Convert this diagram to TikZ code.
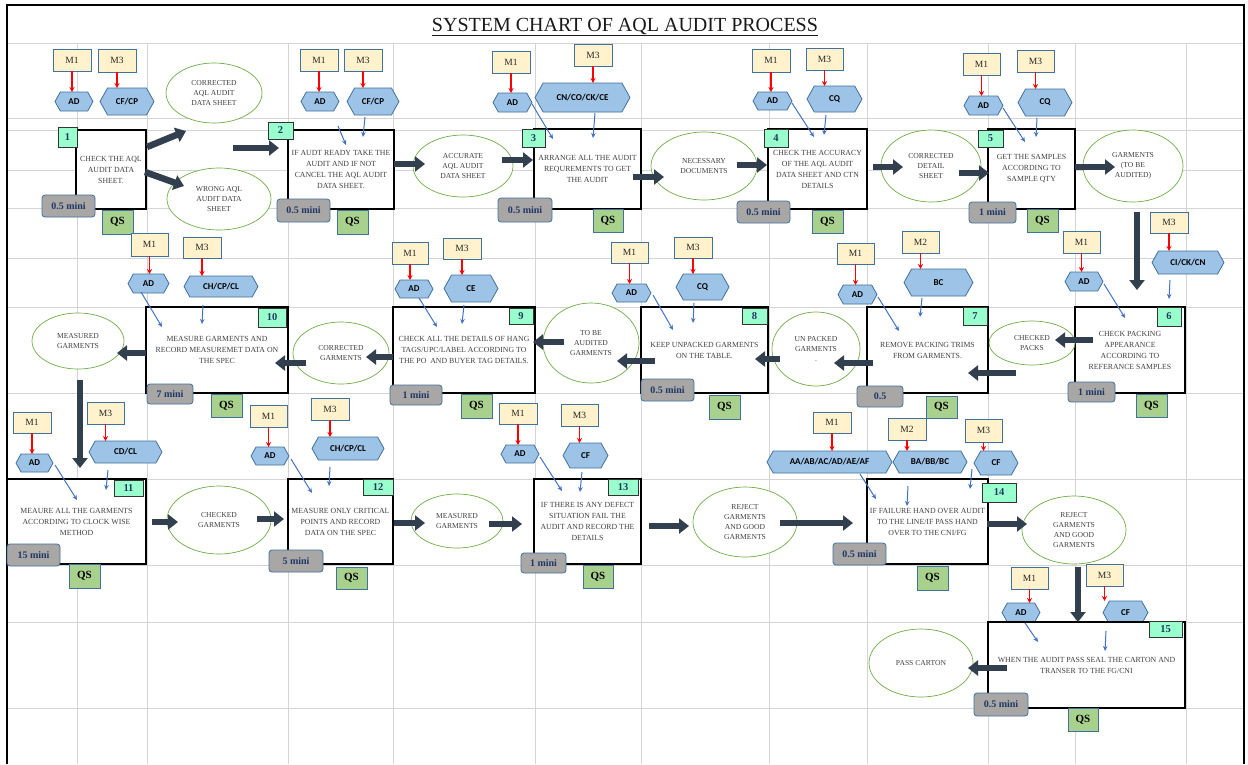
\documentclass[tikz,border=0pt]{standalone}
\usepackage{fontspec}
\setmainfont{Liberation Serif}
\newfontfamily\hexfont{Carlito}
\usetikzlibrary{arrows.meta,calc,shapes.geometric}
\pgfdeclarelayer{front}
\pgfsetlayers{main,front}
\definecolor{gridc}{HTML}{D4D4D4}
\definecolor{mfill}{HTML}{FFF2CC}
\definecolor{edgeb}{HTML}{41719C}
\definecolor{hexfill}{HTML}{9DC3E6}
\definecolor{numfill}{HTML}{99FFCC}
\definecolor{numtext}{HTML}{1F3864}
\definecolor{timefill}{HTML}{A9A6A6}
\definecolor{qsfill}{HTML}{A9D18E}
\definecolor{ellc}{HTML}{70AD47}
\definecolor{bigarrc}{HTML}{323F4F}
\definecolor{txtc}{HTML}{404040}
\definecolor{arrblue}{HTML}{4472C4}
\definecolor{arrred}{HTML}{FF0000}
\newcommand\mkbox[7]{\node[#1, minimum width={(#5)-(#3)}, minimum height={(#6)-(#4)}] (#2) at ({((#3)+(#5))/2},{((#4)+(#6))/2}) {#7};}
\newcommand\hexn[6]{%
  \pgfmathsetmacro\hxp{0.28*((#5)-(#3))}%
  \path[hexshape] (#2,{((#3)+(#5))/2}) -- ({(#2)+\hxp},#3) -- ({(#4)-\hxp},#3) -- (#4,{((#3)+(#5))/2}) -- ({(#4)-\hxp},#5) -- ({(#2)+\hxp},#5) -- cycle;%
  \node[hextext, minimum width={(#4)-(#2)}, minimum height={(#5)-(#3)}] (#1) at ({((#2)+(#4))/2},{((#3)+(#5))/2}) {#6};%
}
\newcommand\elln[6]{\node[ell, minimum width={2*(#4)}, minimum height={2*(#5)}] (#1) at (#2,#3) {#6};}
\newcommand\barr[5]{\coordinate (#1s) at (#2,#3); \coordinate (#1e) at (#4,#5); \begin{pgfonlayer}{front}\draw[bluearrow] (#1s) -- (#1e);\end{pgfonlayer}}
\newcommand\bigarr[5]{\coordinate (#1s) at (#2,#3); \coordinate (#1e) at (#4,#5); \begin{pgfonlayer}{front}\draw[bigarrow] (#1s) -- (#1e);\end{pgfonlayer}}
\newcommand\redarr[2]{\begin{pgfonlayer}{front}\draw[redarrow] (#1.south) -- (#1.south |- #2.north);\end{pgfonlayer}}
\begin{document}
\begin{tikzpicture}[x=1pt,y=-1pt,
  gridline/.style={draw=gridc, line width=0.9pt},
  mbox/.style={draw=edgeb, line width=0.8pt, fill=mfill, inner sep=0pt, outer sep=0pt, font=\fontsize{9.5}{10}\selectfont, text=black!85},
  hexshape/.style={draw=edgeb, line width=0.8pt, fill=hexfill},
  hextext/.style={inner sep=0pt, outer sep=0pt, font=\hexfont\bfseries\fontsize{9}{10}\selectfont, text=black},
  stepbox/.style={draw=black, line width=2pt, fill=white, inner sep=0pt, outer sep=0pt, align=center, font=\fontsize{7.8}{11}\selectfont, text=txtc},
  numbox/.style={draw=black!80, line width=0.8pt, fill=numfill, inner sep=0pt, outer sep=0pt, font=\bfseries\fontsize{10.5}{11}\selectfont, text=numtext},
  timebox/.style={draw=edgeb, line width=0.8pt, fill=timefill, rounded corners=3pt, inner sep=0pt, outer sep=0pt, font=\bfseries\fontsize{10}{11}\selectfont, text=numtext},
  qsbox/.style={draw=edgeb, line width=0.8pt, fill=qsfill, inner sep=0pt, outer sep=0pt, font=\bfseries\fontsize{11}{12}\selectfont, text=black},
  ell/.style={ellipse, draw=ellc, line width=0.7pt, fill=white, inner sep=0pt, outer sep=0pt, align=center, font=\fontsize{7.6}{10}\selectfont, text=txtc},
  bigarrow/.style={draw=bigarrc, line width=6.5pt, -{Triangle[length=10pt,width=15pt]}},
  bluearrow/.style={draw=arrblue, line width=1pt, -{Stealth[length=5pt,width=4.5pt]}},
  redarrow/.style={draw=arrred, line width=1.3pt, -{Stealth[length=5pt,width=5pt]}}
]
\useasboundingbox (0,0) rectangle (1248,764);
\fill[white] (0,0) rectangle (1248,764);
% grid
\foreach \y in {43,118,130,170,208,258,307,393,479,565,622,708} \draw[gridline] (7,\y) -- (1244,\y);
\foreach \x in {77,147,288,393,535,641,769,867,988,1075,1186} \draw[gridline] (\x,43) -- (\x,764);
\draw[line width=1.6pt] (7,764) -- (7,5) -- (1244,5) -- (1244,764);
% title
\node[anchor=base, font=\fontsize{20}{22}\selectfont, text=black!90] (title) at (625,31) {\underline{SYSTEM CHART OF AQL AUDIT PROCESS}};

% ---------- step 1
\mkbox{mbox}{s1m1}{53}{49}{91}{71}{M1}
\mkbox{mbox}{s1m3}{98}{49}{136}{72}{M3}
\hexn{s1ad}{55}{92}{93}{111}{AD}
\hexn{s1cf}{100}{88}{154}{115}{CF/CP}
\redarr{s1m1}{s1ad}
\redarr{s1m3}{s1cf}
\mkbox{stepbox}{b1}{76}{130}{146}{209}{CHECK THE AQL\\AUDIT DATA\\SHEET.}
\mkbox{numbox}{n1}{58}{127}{77}{147}{1}
\mkbox{timebox}{t1}{42}{195}{95}{217}{0.5 mini}
\mkbox{qsbox}{q1}{102}{210}{133}{234}{QS}
\elln{e1a}{214}{93}{48}{30}{CORRECTED\\AQL AUDIT\\DATA SHEET}
\elln{e1b}{219}{199}{52}{31}{WRONG AQL\\AUDIT DATA\\SHEET}
\bigarr{a1}{147}{147}{186}{131}
\bigarr{a2}{145}{172}{184}{186}
\bigarr{a3}{233}{148}{279}{148}

% ---------- step 2
\mkbox{mbox}{s2m1}{300}{49}{338}{71}{M1}
\mkbox{mbox}{s2m3}{344}{49}{382}{71}{M3}
\hexn{s2ad}{301}{92}{339}{111}{AD}
\hexn{s2cf}{347}{88}{399}{115}{CF/CP}
\redarr{s2m1}{s2ad}
\redarr{s2m3}{s2cf}
\mkbox{stepbox}{b2}{288}{130}{394}{209}{IF AUDT READY TAKE THE\\AUDIT AND IF NOT\\CANCEL THE AQL AUDIT\\DATA SHEET.}
\mkbox{numbox}{n2}{268}{122}{293}{139}{2}
\mkbox{timebox}{t2}{277}{199}{330}{222}{0.5 mini}
\mkbox{qsbox}{q2}{337}{210}{368}{234}{QS}
\barr{l2a}{338}{126}{346}{145}
\barr{l2b}{365}{117}{363}{137}
\bigarr{a4}{394}{164}{425}{164}

% ---------- step 3
\elln{e2}{463}{166}{50}{31}{ACCURATE\\AQL AUDIT\\DATA SHEET}
\bigarr{a5}{502}{160}{533}{160}
\mkbox{mbox}{s3m1}{492}{51}{530}{73}{M1}
\mkbox{mbox}{s3m3}{574}{44}{612}{66}{M3}
\hexn{s3ad}{493}{93}{532}{112}{AD}
\hexn{s3cn}{535}{83}{630}{112}{CN/CO/CK/CE}
\redarr{s3m1}{s3ad}
\redarr{s3m3}{s3cn}
\mkbox{stepbox}{b3}{534}{129}{641}{209}{ARRANGE ALL THE AUDIT\\REQUREMENTS TO GET\\THE AUDIT}
\mkbox{numbox}{n3}{522}{129}{545}{147}{3}
\mkbox{timebox}{t3}{498}{198}{552}{222}{0.5 mini}
\mkbox{qsbox}{q3}{593}{209}{623}{232}{QS}
\barr{l3a}{532}{104}{553}{139}
\barr{l3b}{595}{113}{593}{138}
\bigarr{a6}{633}{177}{664}{177}

% ---------- step 4
\elln{e3}{704}{166}{53}{34}{NECESSARY\\DOCUMENTS}
\bigarr{a7}{737}{165}{767}{165}
\mkbox{mbox}{s4m1}{752}{49}{790}{72}{M1}
\mkbox{mbox}{s4m3}{806}{48}{843}{70}{M3}
\hexn{s4ad}{753}{92}{792}{110}{AD}
\hexn{s4cq}{807}{86}{862}{112}{CQ}
\redarr{s4m1}{s4ad}
\redarr{s4m3}{s4cq}
\mkbox{stepbox}{b4}{768}{129}{867}{209}{CHECK THE ACCURACY\\OF THE AQL AUDIT\\DATA SHEET AND CTN\\DETAILS}
\mkbox{numbox}{n4}{764}{129}{788}{147}{4}
\mkbox{timebox}{t4}{737}{201}{790}{223}{0.5 mini}
\mkbox{qsbox}{q4}{812}{210}{843}{233}{QS}
\barr{l4a}{792}{103}{814}{137}
\barr{l4b}{826}{115}{824}{135}
\bigarr{a8}{873}{167}{903}{167}

% ---------- step 5
\elln{e4}{931}{166}{50}{36}{CORRECTED\\DETAIL\\SHEET}
\bigarr{a9}{959}{173}{989}{173}
\mkbox{mbox}{s5m1}{963}{53}{1000}{75}{M1}
\mkbox{mbox}{s5m3}{1017}{50}{1054}{72}{M3}
\hexn{s5ad}{964}{96}{1003}{115}{AD}
\hexn{s5cq}{1018}{89}{1072}{116}{CQ}
\redarr{s5m1}{s5ad}
\redarr{s5m3}{s5cq}
\mkbox{stepbox}{b5}{988}{129}{1075}{209}{GET THE SAMPLES\\ACCORDING TO\\SAMPLE QTY}
\mkbox{numbox}{n5}{978}{130}{1003}{147}{5}
\mkbox{timebox}{t5}{969}{202}{1016}{223}{1 mini}
\mkbox{qsbox}{q5}{1027}{209}{1058}{232}{QS}
\barr{l5a}{1003}{108}{1025}{142}
\barr{l5b}{1037}{118}{1036}{137}
\bigarr{a10}{1075}{167}{1115}{167}
\elln{e5}{1133}{166}{50}{36}{GARMENTS\\(TO BE\\AUDITED)}
\bigarr{a11}{1137}{212}{1137}{290}

% ---------- step 6
\mkbox{mbox}{s6m3}{1150}{212}{1188}{233}{M3}
\mkbox{mbox}{s6m1}{1063}{231}{1100}{253}{M1}
\hexn{s6ci}{1152}{251}{1224}{274}{CI/CK/CN}
\hexn{s6ad}{1065}{272}{1103}{291}{AD}
\redarr{s6m1}{s6ad}
\redarr{s6m3}{s6ci}
\mkbox{stepbox}{b6}{1075}{307}{1185}{393}{CHECK PACKING\\APPEARANCE\\ACCORDING TO\\REFERANCE SAMPLES}
\mkbox{numbox}{n6}{1157}{307}{1181}{326}{6}
\mkbox{timebox}{t6}{1068}{382}{1115}{402}{1 mini}
\mkbox{qsbox}{q6}{1136}{394}{1167}{417}{QS}
\barr{l6a}{1104}{284}{1125}{318}
\barr{l6b}{1170}{280}{1169}{299}
\elln{e6}{1032}{343}{43}{22}{CHECKED\\PACKS}
\bigarr{a12}{1093}{340}{1055}{340}
\bigarr{a13}{1016}{373}{968}{373}

% ---------- step 7
\mkbox{mbox}{s7m1}{837}{243}{874}{264}{M1}
\mkbox{mbox}{s7m2}{902}{231}{939}{253}{M2}
\hexn{s7ad}{838}{285}{877}{304}{AD}
\hexn{s7bc}{904}{269}{973}{296}{BC}
\redarr{s7m1}{s7ad}
\redarr{s7m2}{s7bc}
\mkbox{stepbox}{b7}{867}{307}{988}{393}{REMOVE PACKING TRIMS\\FROM GARMENTS.}
\mkbox{numbox}{n7}{963}{307}{987}{325}{7}
\mkbox{timebox}{t7}{857}{386}{903}{407}{0.5\hspace{16pt}}
\mkbox{qsbox}{q7}{926}{396}{957}{418}{QS}
\barr{l7a}{878}{297}{899}{331}
\barr{l7b}{922}{298}{920}{317}
\bigarr{a13b}{873}{363}{834}{363}
\elln{e7}{816}{349}{44}{37}{UN PACKED\\GARMENTS\\.}
\bigarr{a14}{780}{359}{755}{359}

% ---------- step 8
\mkbox{mbox}{s8m1}{611}{242}{648}{263}{M1}
\mkbox{mbox}{s8m3}{674}{237}{712}{258}{M3}
\hexn{s8ad}{612}{284}{651}{302}{AD}
\hexn{s8cq}{676}{274}{729}{300}{CQ}
\redarr{s8m1}{s8ad}
\redarr{s8m3}{s8cq}
\mkbox{stepbox}{b8}{641}{307}{768}{393}{KEEP UNPACKED GARMENTS\\ON THE TABLE.}
\mkbox{numbox}{n8}{742}{308}{767}{324}{8}
\mkbox{timebox}{t8}{641}{379}{694}{401}{0.5 mini}
\mkbox{qsbox}{q8}{709}{395}{740}{419}{QS}
\barr{l8a}{653}{295}{673}{330}
\barr{l8b}{694}{303}{693}{323}
\bigarr{a15}{655}{361}{617}{361}

% ---------- step 9
\elln{e8}{591}{343}{48}{40}{TO BE\\AUDITED\\GARMENTS}
\bigarr{a16}{564}{342}{533}{342}
\mkbox{mbox}{s9m1}{392}{242}{428}{264}{M1}
\mkbox{mbox}{s9m3}{443}{238}{481}{259}{M3}
\hexn{s9ad}{395}{280}{433}{298}{AD}
\hexn{s9ce}{444}{275}{498}{302}{CE}
\redarr{s9m1}{s9ad}
\redarr{s9m3}{s9ce}
\mkbox{stepbox}{b9}{393}{307}{535}{393}{CHECK ALL THE DETAILS OF HANG\\TAGS/UPC/LABEL ACCORDING TO\\THE PO \ AND BUYER TAG DETAILS.}
\mkbox{numbox}{n9}{509}{308}{533}{324}{9}
\mkbox{timebox}{t9}{390}{385}{442}{405}{1 mini}
\mkbox{qsbox}{q9}{461}{394}{492}{418}{QS}
\barr{l9a}{419}{298}{437}{327}
\barr{l9b}{464}{305}{462}{324}
\bigarr{a17}{393}{357}{366}{357}
\elln{e9}{341}{353}{48}{31}{CORRECTED\\GARMENTS}
\bigarr{a18}{306}{363}{275}{363}

% ---------- step 10
\mkbox{mbox}{s10m1}{131}{233}{168}{256}{M1}
\mkbox{mbox}{s10m3}{183}{237}{221}{258}{M3}
\hexn{s10ad}{128}{274}{169}{293}{AD}
\hexn{s10ch}{184}{276}{258}{297}{CH/CP/CL}
\redarr{s10m1}{s10ad}
\redarr{s10m3}{s10ch}
\mkbox{stepbox}{b10}{146}{307}{288}{393}{MEASURE GARMENTS AND\\RECORD MEASUREMET DATA ON\\THE SPEC}
\mkbox{numbox}{n10}{258}{308}{286}{327}{10}
\mkbox{timebox}{t10}{147}{384}{193}{404}{7 mini}
\mkbox{qsbox}{q10}{211}{394}{242}{417}{QS}
\barr{l10a}{141}{292}{162}{327}
\barr{l10b}{203}{305}{202}{324}
\bigarr{a19}{146}{353}{117}{353}
\elln{e10}{78}{341}{46}{28}{MEASURED\\GARMENTS}
\bigarr{a20}{80}{380}{80}{468}

% ---------- step 11
\mkbox{mbox}{s11m1}{13}{412}{51}{433}{M1}
\mkbox{mbox}{s11m3}{87}{402}{124}{424}{M3}
\hexn{s11ad}{16}{454}{53}{472}{AD}
\hexn{s11cd}{89}{441}{162}{463}{CD/CL}
\redarr{s11m1}{s11ad}
\redarr{s11m3}{s11cd}
\mkbox{stepbox}{b11}{7}{479}{146}{564}{MEAURE ALL THE GARMENTS\\ACCORDING TO CLOCK WISE\\METHOD}
\mkbox{numbox}{n11}{114}{480}{143}{496}{11}
\mkbox{timebox}{t11}{7}{544}{60}{566}{15 mini}
\mkbox{qsbox}{q11}{69}{564}{100}{588}{QS}
\barr{l11a}{55}{465}{77}{500}
\barr{l11b}{108}{470}{106}{490}
\bigarr{a21}{152}{522}{178}{522}
\elln{e11}{219}{520}{52}{34}{CHECKED\\GARMENTS}
\bigarr{a22}{257}{519}{284}{519}

% ---------- step 12
\mkbox{mbox}{s12m1}{250}{405}{287}{427}{M1}
\mkbox{mbox}{s12m3}{311}{398}{349}{420}{M3}
\hexn{s12ad}{251}{447}{289}{465}{AD}
\hexn{s12ch}{312}{437}{384}{460}{CH/CP/CL}
\redarr{s12m1}{s12ad}
\redarr{s12m3}{s12ch}
\mkbox{stepbox}{b12}{288}{479}{393}{564}{MEASURE ONLY CRITICAL\\POINTS AND RECORD\\DATA ON THE SPEC}
\mkbox{numbox}{n12}{363}{479}{393}{495}{12}
\mkbox{timebox}{t12}{269}{550}{323}{572}{5 mini}
\mkbox{qsbox}{q12}{336}{567}{367}{589}{QS}
\barr{l12a}{291}{459}{312}{493}
\barr{l12b}{330}{467}{329}{486}
\bigarr{a23}{394}{523}{425}{523}
\elln{e12}{457}{521}{46}{27}{MEASURED\\GARMENTS}
\bigarr{a24}{489}{524}{522}{524}

% ---------- step 13
\mkbox{mbox}{s13m1}{499}{403}{537}{424}{M1}
\mkbox{mbox}{s13m3}{561}{404}{598}{426}{M3}
\hexn{s13ad}{501}{445}{539}{463}{AD}
\hexn{s13cf}{563}{443}{608}{468}{CF}
\redarr{s13m1}{s13ad}
\redarr{s13m3}{s13cf}
\mkbox{stepbox}{b13}{534}{479}{641}{564}{IF THERE IS ANY DEFECT\\SITUATION FAIL THE\\AUDIT AND RECORD THE\\DETAILS}
\mkbox{numbox}{n13}{608}{479}{638}{495}{13}
\mkbox{timebox}{t13}{521}{553}{566}{573}{1 mini}
\mkbox{qsbox}{q13}{583}{565}{613}{588}{QS}
\barr{l13a}{540}{457}{562}{491}
\barr{l13b}{582}{472}{580}{492}
\bigarr{a25}{649}{526}{689}{526}
\elln{e13}{745}{522}{52}{35}{REJECT\\GARMENTS\\AND GOOD\\GARMENTS}
\bigarr{a26}{780}{523}{853}{523}

% ---------- step 14
\mkbox{mbox}{s14m1}{813}{412}{851}{433}{M1}
\mkbox{mbox}{s14m2}{888}{418}{926}{440}{M2}
\mkbox{mbox}{s14m3}{965}{419}{1002}{442}{M3}
\hexn{s14aa}{767}{451}{892}{473}{AA/AB/AC/AD/AE/AF}
\hexn{s14ba}{893}{451}{967}{473}{BA/BB/BC}
\hexn{s14cf}{974}{451}{1018}{475}{CF}
\redarr{s14m1}{s14aa}
\redarr{s14m2}{s14ba}
\redarr{s14m3}{s14cf}
\mkbox{stepbox}{b14}{867}{479}{988}{564}{IF FAILURE HAND OVER AUDIT\\TO THE LINE/IF PASS HAND\\OVER TO THE CNI/FG}
\mkbox{numbox}{n14}{982}{483}{1016}{502}{14}
\mkbox{timebox}{t14}{833}{543}{886}{565}{0.5 mini}
\mkbox{qsbox}{q14}{917}{566}{948}{590}{QS}
\barr{l14a}{860}{474}{876}{499}
\barr{l14b}{908}{486}{907}{506}
\barr{l14c}{972}{469}{970}{489}
\bigarr{a27}{987}{524}{1027}{524}
\elln{e14}{1074}{530}{52}{34}{REJECT\\GARMENTS\\AND GOOD\\GARMENTS}
\bigarr{a28}{1078}{567}{1078}{622}

% ---------- step 15
\mkbox{mbox}{s15m1}{1011}{567}{1048}{589}{M1}
\mkbox{mbox}{s15m3}{1086}{564}{1123}{586}{M3}
\hexn{s15ad}{1002}{603}{1040}{622}{AD}
\hexn{s15cf}{1103}{601}{1148}{624}{CF}
\redarr{s15m1}{s15ad}
\redarr{s15m3}{s15cf}
\mkbox{stepbox}{b15}{988}{622}{1185}{708}{WHEN THE AUDIT PASS SEAL THE CARTON AND\\TRANSER TO THE FG/CNI}
\mkbox{numbox}{n15}{1149}{621}{1182}{637}{15}
\mkbox{timebox}{t15}{974}{693}{1028}{716}{0.5 mini}
\mkbox{qsbox}{q15}{1068}{708}{1098}{731}{QS}
\barr{l15a}{1025}{623}{1038}{642}
\barr{l15b}{1106}{631}{1105}{651}
\bigarr{a29}{1007}{668}{968}{668}
\elln{e15}{921}{663}{52}{34}{PASS CARTON}
\end{tikzpicture}
\end{document}
